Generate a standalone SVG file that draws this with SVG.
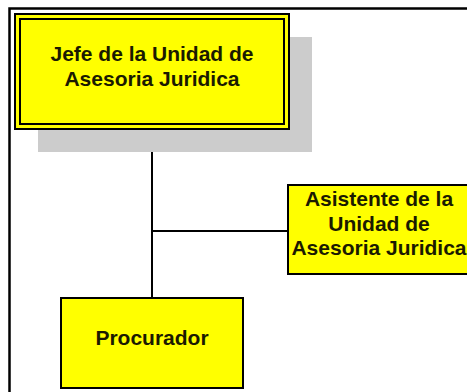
<svg xmlns="http://www.w3.org/2000/svg" width="467" height="392" viewBox="0 0 467 392">
<style>
.box{fill:#ffff00;stroke:#000;stroke-width:2}
.dbl{fill:none;stroke:#000;stroke-width:2}
.lbl{font-family:"Liberation Sans",Arial,sans-serif;font-weight:bold;font-size:21px;fill:#1a1a00;text-anchor:middle}
.conn{stroke:#000;stroke-width:2;fill:none}
</style>
<rect x="0" y="0" width="467" height="392" fill="#fff"/>
<path d="M9.5,392 V8.5 H470" fill="none" stroke="#000" stroke-width="2.5"/>
<g id="connectors">
<line class="conn" x1="152" y1="129" x2="152" y2="298"/>
<line class="conn" x1="152" y1="231" x2="288" y2="231"/>
</g>
<g id="jefe">
<rect x="38" y="37" width="274" height="115" fill="#cccccc"/>
<rect class="box" x="15" y="14" width="274" height="115"/>
<rect class="dbl" x="20" y="19" width="264" height="105"/>
<text class="lbl" x="152" y="61">Jefe de la Unidad de</text>
<text class="lbl" x="152" y="86">Asesoria Juridica</text>
</g>
<g id="asistente">
<rect class="box" x="288" y="185" width="184" height="89"/>
<text class="lbl" x="379" y="206">Asistente de la</text>
<text class="lbl" x="379" y="231">Unidad de</text>
<text class="lbl" x="379" y="255">Asesoria Juridica</text>
</g>
<g id="procurador">
<rect class="box" x="61" y="298" width="182" height="90"/>
<text class="lbl" x="152" y="345">Procurador</text>
</g>
</svg>
